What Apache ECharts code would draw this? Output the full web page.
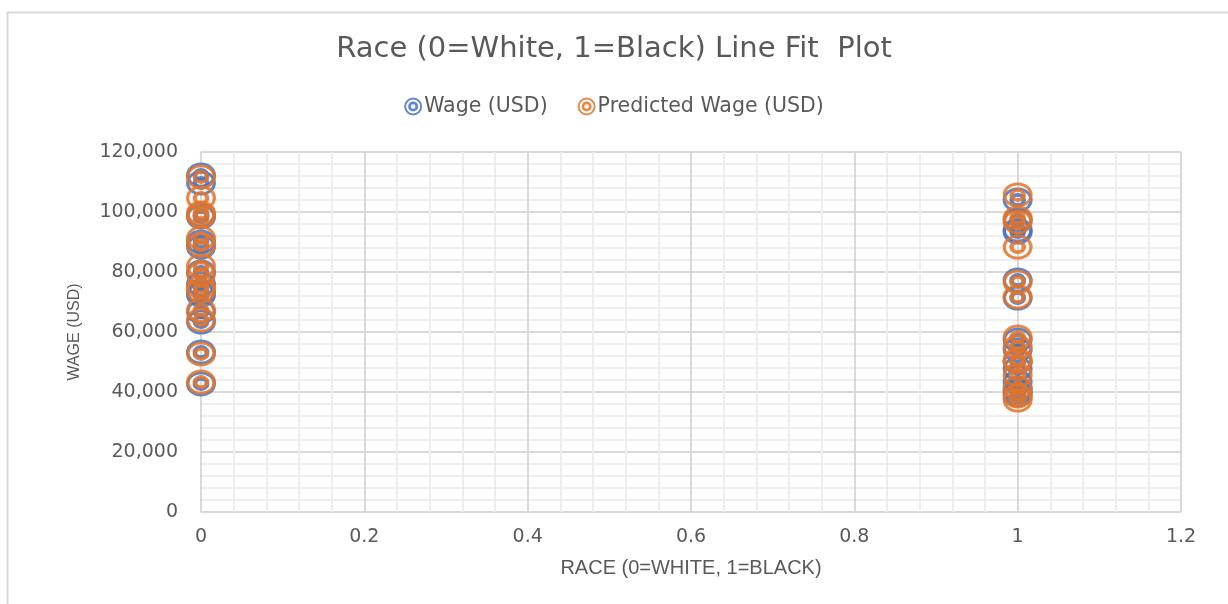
<!DOCTYPE html>
<html>
<head>
<meta charset="utf-8">
<script src="https://cdn.jsdelivr.net/npm/echarts@6/dist/echarts.min.js"></script>
<style>
  html, body { margin: 0; padding: 0; background: #fff; }
  #chart { width: 1228px; height: 604px; }
</style>
</head>
<body>
<div id="chart"></div>
<script>
// Observed wages and model predictions, grouped by race (0 = White, 1 = Black)
const whiteWage = [112300, 109700, 99000, 98300, 90000, 88300, 80000, 76000, 73300, 72300, 66700, 63300, 53300, 42700];
const whitePredicted = [111700, 104700, 99700, 98700, 91300, 89000, 82000, 79300, 75000, 73700, 67300, 64000, 52700, 43300];
const blackWage = [104000, 97300, 94000, 93300, 77300, 71300, 57300, 54000, 50000, 47700, 43300, 41000, 40000, 39000];
const blackPredicted = [105700, 98000, 96700, 88300, 76700, 71700, 58300, 55000, 50700, 50000, 45700, 41300, 38700, 37300];
const raceCodes = [0, 1];
const xTicks = ['0', '0.2', '0.4', '0.6', '0.8', '1', '1.2'];

const pairs = (x, ys) => ys.map(y => [x, y]);
const wagePoints = pairs(raceCodes[0], whiteWage).concat(pairs(raceCodes[1], blackWage));
const predictedPoints = pairs(raceCodes[0], whitePredicted).concat(pairs(raceCodes[1], blackPredicted));

// Double-ring marker: outer ring plus inner ring, holes wound the opposite way
const ringMarker = 'path://M0,50 A50,50 0 1,1 100,50 A50,50 0 1,1 0,50 Z ' +
  'M11,50 A39,39 0 1,0 89,50 A39,39 0 1,0 11,50 Z ' +
  'M22,50 A28,28 0 1,1 78,50 A28,28 0 1,1 22,50 Z ' +
  'M37,50 A13,13 0 1,0 63,50 A13,13 0 1,0 37,50 Z';

const textColor = '#595959';
const chart = echarts.init(document.getElementById('chart'), null, { renderer: 'canvas' });

chart.setOption({
  backgroundColor: '#ffffff',
  animation: false,
  title: {
    text: 'Race (0=White, 1=Black) Line Fit  Plot',
    left: 'center',
    top: 30,
    textStyle: { fontFamily: 'DejaVu Sans', fontSize: 29, fontWeight: 'normal', color: textColor }
  },
  legend: {
    top: 91,
    left: 'center',
    itemGap: 30,
    itemWidth: 20,
    itemHeight: 18,
    icon: ringMarker,
    textStyle: { fontFamily: 'DejaVu Sans', fontSize: 20.5, color: textColor, padding: [0, 0, 0, -4] },
    data: ['Wage (USD)', 'Predicted Wage (USD)']
  },
  graphic: [{
    type: 'rect',
    left: 5, top: 10,
    shape: { width: 1400, height: 800 },
    style: { fill: 'none', stroke: '#d9d9d9', lineWidth: 2 },
    silent: true
  }],
  grid: { left: 201, right: 47, top: 152, bottom: 92 },
  xAxis: {
    type: 'value',
    min: 0, max: 1.2, interval: 0.2,
    name: 'RACE (0=WHITE, 1=BLACK)',
    nameLocation: 'middle',
    nameGap: 46,
    nameTextStyle: { fontFamily: 'Liberation Sans', fontSize: 20, color: textColor },
    axisLine: { show: false },
    axisTick: { show: false },
    axisLabel: {
      margin: 16,
      fontFamily: 'DejaVu Sans', fontSize: 19, color: textColor,
      formatter: v => xTicks[Math.round(v / 0.2)]
    },
    splitLine: { show: true, lineStyle: { color: '#d9d9d9', width: 2 } },
    minorTick: { show: false, splitNumber: 5 },
    minorSplitLine: { show: true, lineStyle: { color: '#eeeeee', width: 2 } }
  },
  yAxis: {
    type: 'value',
    min: 0, max: 120000, interval: 20000,
    name: 'WAGE (USD)',
    nameLocation: 'middle',
    nameGap: 118,
    nameTextStyle: { fontFamily: 'Liberation Sans', fontSize: 16, color: textColor },
    axisLine: { show: false },
    axisTick: { show: false },
    axisLabel: {
      margin: 23,
      fontFamily: 'DejaVu Sans', fontSize: 19, color: textColor,
      formatter: v => v.toLocaleString('en-US')
    },
    splitLine: { show: true, lineStyle: { color: '#d9d9d9', width: 2 } },
    minorTick: { show: false, splitNumber: 5 },
    minorSplitLine: { show: true, lineStyle: { color: '#eeeeee', width: 2 } }
  },
  series: [
    {
      name: 'Wage (USD)',
      type: 'scatter',
      clip: false,
      symbol: ringMarker,
      symbolSize: [30, 25],
      itemStyle: { color: '#4472c4', opacity: 0.85 },
      data: wagePoints
    },
    {
      name: 'Predicted Wage (USD)',
      type: 'scatter',
      clip: false,
      symbol: ringMarker,
      symbolSize: [30, 25],
      itemStyle: { color: '#e0742c', opacity: 0.85 },
      data: predictedPoints
    }
  ]
});
</script>
</body>
</html>
